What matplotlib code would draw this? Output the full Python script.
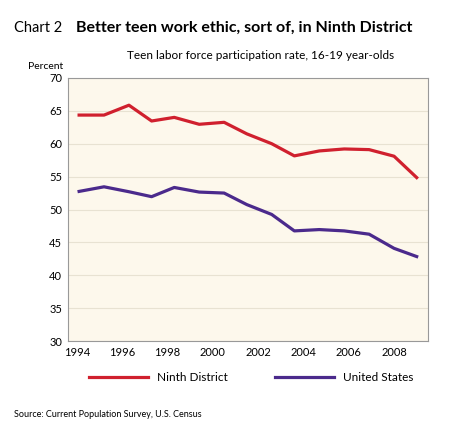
import matplotlib
matplotlib.use("Agg")
import matplotlib.pyplot as plt

years = [1994.1, 1995.2, 1996.3, 1997.3, 1998.3, 1999.4, 2000.5, 2001.5, 2002.6, 2003.6, 2004.7, 2005.8, 2006.9, 2008.0, 2009.0]
ninth = [64.35, 64.35, 65.85, 63.45, 64.0, 62.95, 63.25, 61.5, 60.0, 58.15, 58.9, 59.2, 59.1, 58.1, 54.85]
us = [52.75, 53.45, 52.7, 51.95, 53.35, 52.65, 52.5, 50.75, 49.25, 46.75, 46.95, 46.75, 46.25, 44.1, 42.85]
xticks = [1994, 1996, 1998, 2000, 2002, 2004, 2006, 2008]
yticks = [30, 35, 40, 45, 50, 55, 60, 65, 70]

plt.rcParams['font.family'] = ['Lato', 'DejaVu Sans']
fig = plt.figure(figsize=(4.74, 4.28), dpi=100)
ax = fig.add_axes([0.143, 0.203, 0.76, 0.615])
ax.set_facecolor('#fdf8ec')
ax.plot(years, ninth, color='#d0202e', lw=2.3, label='Ninth District')
ax.plot(years, us, color='#4b2a8c', lw=2.3, label='United States')
ax.set_xlim(1993.6, 2009.5)
ax.set_ylim(30, 70)
ax.set_xticks(xticks)
ax.set_yticks(yticks)
ax.tick_params(labelsize=8, length=0, pad=4)
ax.grid(axis='y', color='#e8e2d2', lw=0.8)
for s in ax.spines.values():
    s.set_color('#999999'); s.set_linewidth(0.8)
fig.text(0.03, 0.925, 'Chart 2', fontsize=10.5)
fig.text(0.16, 0.925, 'Better teen work ethic, sort of, in Ninth District', fontsize=11.5, fontweight='bold')
fig.text(0.55, 0.862, 'Teen labor force participation rate, 16-19 year-olds', fontsize=8.5, ha='center')
fig.text(0.06, 0.838, 'Percent', fontsize=7.5)
fig.legend(loc='lower center', bbox_to_anchor=(0.53, 0.08), ncol=2, frameon=False, fontsize=8.5, handlelength=5, columnspacing=4)
fig.text(0.03, 0.025, 'Source: Current Population Survey, U.S. Census', fontsize=6.5)
fig.savefig('out.png', dpi=100)
